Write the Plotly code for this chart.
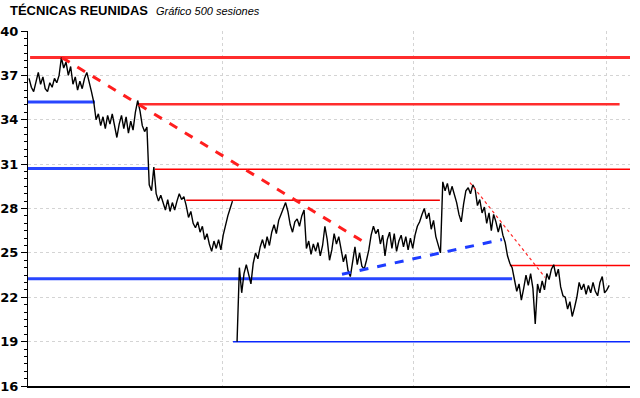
import plotly.graph_objects as go

# ---------------- data ----------------
title_text = "TÉCNICAS REUNIDAS"
subtitle_text = "Gráfico 500 sesiones"

# closing prices, one value every 2 sessions (None = gap in data)
prices = [
    36.8, 36.2, 35.9, 36.5, 37.2, 36.4, 36.9, 36.1, 35.9, 36.5,
    36.2, 36.8, 36.5, 37.0, 38.2, 37.5, 37.9, 37.0, 37.6, 36.4,
    36.9, 36.0, 36.6, 36.1, 36.8, 37.2, 36.6, 35.9, 35.2, 34.0,
    34.4, 33.6, 34.2, 33.4, 34.3, 33.7, 34.4, 33.5, 32.8, 33.7,
    34.3, 33.4, 34.2, 33.1, 33.9, 33.3, 34.5, 35.3, 34.6, 33.6,
    33.2, 33.5, 29.6, 29.2, 30.8, 29.0, 28.5, 28.9, 28.3, 27.9,
    28.6, 27.8, 28.4, 27.9, 28.5, 29.0, 28.6, 28.8, 28.2, 27.4,
    27.8, 27.0, 26.7, 27.1, 26.4, 26.8, 25.9, 26.3, 25.6, 25.1,
    25.8, 25.3, 25.9, 25.2, 26.2, 26.9, 27.5, 28.0, 28.5, None,
    19.0, 24.0, 22.3, 23.6, 24.2, 23.5, 22.9, 24.3, 25.0, 24.6,
    25.4, 25.9, 25.3, 26.1, 25.5, 26.4, 26.9, 26.3, 27.2, 27.6,
    28.0, 28.4, 27.8, 26.9, 26.4, 27.1, 27.3, 26.8, 27.5, 27.9,
    25.3, 25.8, 24.9, 25.6, 25.1, 25.7, 24.8, 25.5, 26.8, 25.9,
    24.5, 25.2, 26.3, 25.6, 26.1, 25.3, 24.4, 24.9, 23.8, 23.4,
    24.3, 25.4, 24.2, 25.0, 24.1, 23.9, 24.5, 25.2, 26.2, 26.8,
    26.3, 26.6, 25.6, 26.2, 24.8, 25.9, 26.4, 25.3, 26.3, 25.1,
    25.8, 26.2, 25.4, 26.1, 25.2, 26.0, 25.3, 26.2, 26.8, 27.1,
    27.6, 28.0, 27.3, 27.7, 26.6, 27.2, 26.1, 25.6, 25.0, 29.8,
    29.2, 29.7, 28.9, 29.5, 29.0, 28.4, 27.6, 27.1, 28.3, 29.2,
    29.4, 29.0, 29.6, 29.3, 28.2, 28.6, 27.7, 28.1, 27.0, 27.7,
    26.5, 27.6, 27.1, 26.4, 27.0, 26.2, 25.7, 24.8, 24.3, 24.0,
    23.2, 22.4, 22.9, 21.8, 22.6, 23.5, 22.8, 23.6, 22.6, 20.2,
    22.9, 22.3, 23.1, 22.5, 23.6, 23.2, 23.9, 24.2, 23.4, 23.9,
    22.7, 22.1, 22.0, 21.2, 21.7, 20.7, 21.3, 22.0, 23.0, 22.5,
    22.9, 22.2, 22.8, 22.3, 23.0, 22.4, 22.1, 23.0, 23.4, 22.3,
    22.5, 22.8,
]
sessions = [2 * i for i in range(len(prices))]

# horizontal support / resistance levels
level_values = [38.2, 35.05, 35.2, 30.7, 30.65, 28.55, 24.15, 23.25, 19.0]
level_start = [0.9, 93.4, -0.9, -0.9, 109.0, 136.0, 416.0, -0.9, 176.5]
level_end = [520, 511, 57, 103, 520, 355.5, 520, 418, 520]
level_colors = ["rgb(255,45,45)", "rgb(255,45,45)", "rgb(40,70,255)", "rgb(40,70,255)",
                "rgb(255,0,0)", "rgb(240,0,0)", "rgb(255,0,0)", "rgb(40,70,255)", "rgb(10,40,255)"]
level_widths = [3, 2.5, 3, 3, 1.5, 1.5, 1.5, 3.2, 1.5]

# trend lines: (x0, y0, x1, y1)
trend_x0 = [28.5, 270.8, 381.5]
trend_y0 = [38.2, 23.55, 29.75]
trend_x1 = [291.5, 409.2, 446.4]
trend_y1 = [25.65, 25.9, 23.35]
trend_colors = ["rgb(255,30,30)", "rgb(30,60,255)", "rgb(255,40,40)"]
trend_widths = [3, 3, 1.2]
trend_dash = ["dash", "dash", "dot"]

y_ticks = [16, 19, 22, 25, 28, 31, 34, 37, 40]
x_grid = [167, 333, 500]

# ---------------- figure ----------------
fig = go.Figure()

for v, a, b, c, w in zip(level_values, level_start, level_end, level_colors, level_widths):
    fig.add_trace(go.Scatter(x=[a, b], y=[v, v], mode="lines",
                             line=dict(color=c, width=w), hoverinfo="skip"))

fig.add_trace(go.Scatter(x=sessions, y=prices, mode="lines",
                         line=dict(color="black", width=1.4), connectgaps=False))

for x0, y0, x1, y1, c, w, d in zip(trend_x0, trend_y0, trend_x1, trend_y1,
                                    trend_colors, trend_widths, trend_dash):
    fig.add_trace(go.Scatter(x=[x0, x1], y=[y0, y1], mode="lines",
                             line=dict(color=c, width=w, dash=d), hoverinfo="skip"))

fig.update_layout(
    width=640, height=398,
    margin=dict(l=28, r=10, t=31, b=12, autoexpand=False),
    paper_bgcolor="white", plot_bgcolor="white",
    showlegend=False,
    font=dict(family="DejaVu Sans", color="black"),
)

fig.update_xaxes(
    range=[-0.9, 520], showticklabels=False, ticks="", automargin=False,
    tickmode="array", tickvals=x_grid,
    showgrid=True, gridcolor="#d4d4d4", griddash="dot", gridwidth=1,
    showline=True, linecolor="black", linewidth=2, zeroline=False,
)
fig.update_yaxes(
    range=[16, 40], tickmode="array", tickvals=y_ticks, automargin=False,
    ticks="outside", ticklen=6, tickcolor="black", tickwidth=1,
    tickfont=dict(family="DejaVu Sans", size=13, color="black", weight="bold"),
    showgrid=True, gridcolor="#d4d4d4", griddash="dot", gridwidth=1,
    showline=True, linecolor="black", linewidth=1, zeroline=False,
    minor=dict(dtick=0.5, ticks="outside", ticklen=3, tickcolor="black", showgrid=False),
)

fig.add_annotation(text="<b>" + title_text + "</b>", xref="paper", yref="paper",
                   x=-0.033, y=1.0, yshift=21, xanchor="left", yanchor="middle",
                   showarrow=False, font=dict(family="Liberation Sans", size=13, color="black"))
fig.add_annotation(text="<i>" + subtitle_text + "</i>", xref="paper", yref="paper",
                   x=0.21, y=1.0, yshift=20, xanchor="left", yanchor="middle",
                   showarrow=False, font=dict(family="Liberation Sans", size=11, color="black"))

fig.write_html("out.html", config={"displayModeBar": False},
               post_script="document.body.style.margin='0';document.body.style.overflow='hidden';")
